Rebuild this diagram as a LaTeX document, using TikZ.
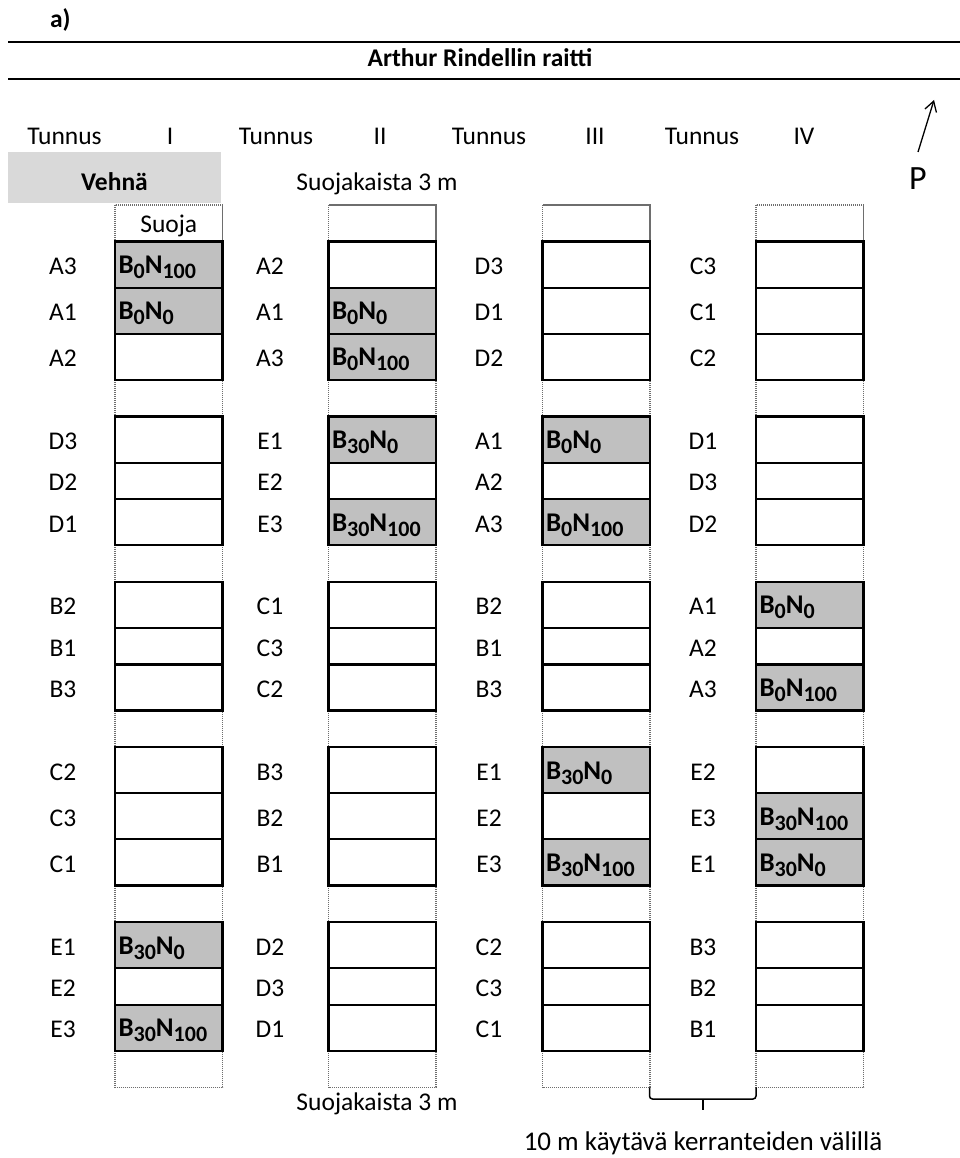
\documentclass[tikz,border=0pt]{standalone}
\usepackage{fontspec}
\setmainfont{Carlito}
\usetikzlibrary{arrows.meta}
\definecolor{cellgray}{RGB}{192,192,192}
\definecolor{headgray}{RGB}{217,217,217}
\definecolor{dotgray}{RGB}{110,110,110}
\newcommand\sbs[1]{\raisebox{-5pt}{\fontsize{22}{22}\selectfont #1}}
\newcommand\trt[2]{B\sbs{#1}N\sbs{#2}}
\expandafter\def\csname trtxt@a\endcsname{\trt{0}{100}}
\expandafter\def\csname trtxt@b\endcsname{\trt{0}{0}}
\expandafter\def\csname trtxt@c\endcsname{\trt{30}{0}}
\expandafter\def\csname trtxt@d\endcsname{\trt{30}{100}}
\def\tops{{241.5,287.65,333.8,416.45,462.6,499.1,581.75,627.9,664.4,747.05,793.2,839.35,922,968.15,1004.65}}
\def\bots{{287.65,333.8,379.95,462.6,499.1,545.25,627.9,664.4,710.55,793.2,839.35,885.5,968.15,1004.65,1050.8}}
\def\colI{A3/a,A1/b,A2/n,D3/n,D2/n,D1/n,B2/n,B1/n,B3/n,C2/n,C3/n,C1/n,E1/c,E2/n,E3/d}
\def\colII{A2/n,A1/b,A3/a,E1/c,E2/n,E3/d,C1/n,C3/n,C2/n,B3/n,B2/n,B1/n,D2/n,D3/n,D1/n}
\def\colIII{D3/n,D1/n,D2/n,A1/b,A2/n,A3/a,B2/n,B1/n,B3/n,E1/c,E2/n,E3/d,C2/n,C3/n,C1/n}
\def\colIV{C3/n,C1/n,C2/n,D1/n,D3/n,D2/n,A1/b,A2/n,A3/a,E2/n,E3/d,E1/c,B3/n,B2/n,B1/n}
% #1 label centre x, #2 box left x, #3 list, #4 name prefix
\newcommand\plotcol[4]{%
  \foreach \lab/\code [count=\i from 0] in #3 {
    \pgfmathsetmacro\rt{\tops[\i]}
    \pgfmathsetmacro\rb{\bots[\i]}
    \node[plotcell, tr-\code, minimum height={\rb-\rt}] (P#4\i) at ({#2+53.75},{(\rt+\rb)/2}) {};
    \node[lbl] (L#4\i) at (#1,{(\rt+\rb)/2+10}) {\lab};
    \if\code n\else
      \node[trtext] (T#4\i) at ({#2+3.5},{(\rt+\rb)/2+9}) {\csname trtxt@\code\endcsname};
    \fi
  }%
}
\begin{document}
\begin{tikzpicture}[x=1pt,y=-1pt,
  font=\fontsize{25.5}{30}\selectfont,
  every node/.style={inner sep=0pt, outer sep=0pt},
  guard/.style={draw=dotgray, line width=1.6pt, dash pattern=on 1.2pt off 0.8pt},
  plotcell/.style={draw=black, line width=2.2pt, minimum width=107.5pt},
  tr-n/.style={fill=white},
  tr-a/.style={fill=cellgray},
  tr-b/.style={fill=cellgray},
  tr-c/.style={fill=cellgray},
  tr-d/.style={fill=cellgray},
  lbl/.style={anchor=base},
  trtext/.style={anchor=base west, font=\fontsize{27}{30}\selectfont\bfseries},
  thickline/.style={line width=2.5pt}]

\useasboundingbox (0,0) rectangle (960,1158);

% title lines
\node[anchor=base west, font=\fontsize{25.5}{30}\selectfont\bfseries] (alabel) at (50,28) {a)};
\draw[thickline] (8,42) -- (960,42);
\node[anchor=base, font=\fontsize{25.5}{30}\selectfont\bfseries] (title) at (480,67) {Arthur Rindellin raitti};
\draw[thickline] (8,79) -- (960,79);

% north arrow
\coordinate (arrS) at (918,152);
\coordinate (arrN) at (934,100);
\draw[line width=1.3pt, -{Straight Barb[length=10pt,width=12pt]}] (arrS) -- (arrN);
\node[anchor=base, font=\fontsize{34}{40}\selectfont] (P) at (918,190) {P};

% header
\node[lbl] (tun1) at (64.5,145) {Tunnus};
\node[lbl] (rI) at (170,145) {I};
\node[lbl] (tun2) at (276,145) {Tunnus};
\node[lbl] (rII) at (380,145) {II};
\node[lbl] (tun3) at (489,145) {Tunnus};
\node[lbl] (rIII) at (595,145) {III};
\node[lbl] (tun4) at (702,145) {Tunnus};
\node[lbl] (rIV) at (804,145) {IV};

\fill[headgray] (8,152) rectangle (221,203);
\node[anchor=base, font=\fontsize{25.5}{30}\selectfont\bfseries] (vehna) at (114.5,191) {Vehnä};
\node[lbl] (suojaT) at (377,191) {Suojakaista 3 m};

% guard strips
\foreach \gt/\gb in {205/241.5, 379.95/416.45, 545.25/581.75, 710.55/747.05, 885.5/922, 1050.8/1087.3}
  \foreach \gx in {115,328.5,542.5,756}
    \draw[guard] (\gx,\gt) rectangle ({\gx+107.5},\gb);
\node[lbl] (suoja) at (168.75,233) {Suoja};

% plots
\plotcol{63}{115}{\colI}{a}
\plotcol{270}{328.5}{\colII}{b}
\plotcol{489}{542.5}{\colIII}{c}
\plotcol{703}{756}{\colIV}{d}

% bottom
\node[lbl] (suojaB) at (377,1110) {Suojakaista 3 m};
\coordinate (brL) at (649.5,1087.3);
\coordinate (brR) at (756,1087.3);
\draw[line width=1.5pt, rounded corners=3pt] (brL) -- (649.5,1099) -- (756,1099) -- (brR);
\coordinate (brM) at (703,1099);
\draw[line width=1.5pt] (brM) -- (703,1110);
\node[lbl, font=\fontsize{27}{30}\selectfont] (kaytava) at (703,1150) {10 m käytävä kerranteiden välillä};
\end{tikzpicture}
\end{document}
